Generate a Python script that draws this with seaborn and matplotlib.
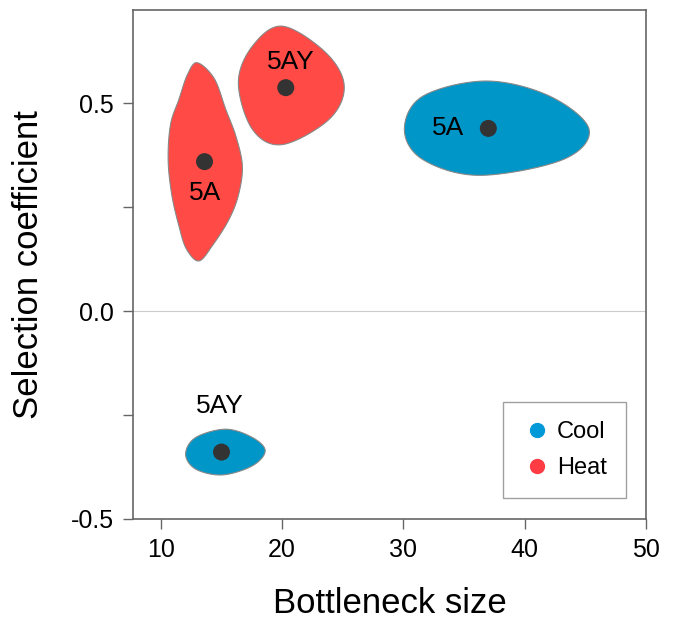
import numpy as np
import pandas as pd
import matplotlib
matplotlib.use("Agg")
import matplotlib.pyplot as plt
from matplotlib.lines import Line2D
import seaborn as sns

# 데이터
conditions = ["Heat", "Heat", "Cool", "Cool"]
strains = ["5A", "5AY", "5A", "5AY"]
bottleneck = [13.6, 20.3, 37.0, 15.0]
selection = [0.36, 0.538, 0.44, -0.339]

# 각 영역의 외곽선 (x 값, y 값)
heat_5a_x = [13.0, 14.4, 15.35, 16.2, 16.72, 16.4, 15.62, 14.3, 13.14, 12.1, 11.49, 10.9, 10.6, 10.8, 11.49, 12.2]
heat_5a_y = [0.598, 0.560, 0.486, 0.420, 0.349, 0.280, 0.221, 0.160, 0.121, 0.150, 0.205, 0.280, 0.365, 0.450, 0.510, 0.570]
heat_5ay_x = [20.02, 23.61, 25.12, 23.88, 20.02, 17.55, 16.39, 17.55]
heat_5ay_y = [0.686, 0.622, 0.542, 0.462, 0.401, 0.4375, 0.55, 0.638]
cool_5a_x = [30.08, 31.6, 36.83, 42.07, 45.31, 43.17, 36.28, 31.6]
cool_5a_y = [0.4375, 0.5175, 0.554, 0.5175, 0.4375, 0.365, 0.327, 0.365]
cool_5ay_x = [12.04, 12.87, 15.35, 17.55, 18.6, 17.55, 15.07, 12.87]
cool_5ay_y = [-0.344, -0.304, -0.284, -0.304, -0.336, -0.372, -0.394, -0.380]

# 라벨 위치
label_x = [13.64, 20.7, 33.7, 14.9]
label_y = [0.284, 0.60, 0.44, -0.228]

colors = {"Cool": "#0096c8", "Heat": "#ff4a45"}
legend_colors = {"Cool": "#0099d8", "Heat": "#ff3b44"}


def 닫힌곡선(xs, ys, n=40):
    # Catmull-Rom 스플라인으로 부드러운 닫힌 곡선 생성
    pts = np.column_stack([xs, ys])
    m = len(pts)
    out = []
    for i in range(m):
        p0, p1, p2, p3 = pts[i - 1], pts[i], pts[(i + 1) % m], pts[(i + 2) % m]
        t = np.linspace(0, 1, n, endpoint=False)[:, None]
        seg = 0.5 * ((2 * p1) + (-p0 + p2) * t + (2 * p0 - 5 * p1 + 4 * p2 - p3) * t ** 2
                     + (-p0 + 3 * p1 - 3 * p2 + p3) * t ** 3)
        out.append(seg)
    out = np.vstack(out)
    return out[:, 0], out[:, 1]


sns.set_theme(style="ticks")
plt.rcParams["font.family"] = ["Liberation Sans", "DejaVu Sans"]
plt.rcParams["text.color"] = "black"
plt.rcParams["axes.labelcolor"] = "black"
plt.rcParams["xtick.labelcolor"] = "black"
plt.rcParams["ytick.labelcolor"] = "black"

df = pd.DataFrame({"condition": conditions, "strain": strains,
                   "bottleneck": bottleneck, "selection": selection})

fig, ax = plt.subplots(figsize=(6.75, 6.23), dpi=100)
fig.subplots_adjust(left=0.197, right=0.957, bottom=0.167, top=0.984)

ax.axhline(0, color="#cccccc", lw=0.8, zorder=0)

blobs = [("Heat", heat_5a_x, heat_5a_y), ("Heat", heat_5ay_x, heat_5ay_y),
         ("Cool", cool_5a_x, cool_5a_y), ("Cool", cool_5ay_x, cool_5ay_y)]
for cond, bx, by in blobs:
    sx, sy = 닫힌곡선(bx, by)
    ax.fill(sx, sy, facecolor=colors[cond], edgecolor="#888888", lw=0.8, zorder=1)

sns.scatterplot(data=df, x="bottleneck", y="selection", color="#333333",
                s=150, edgecolor="none", ax=ax, zorder=3, legend=False)

for lx, ly, s in zip(label_x, label_y, strains):
    ax.text(lx, ly, s, fontsize=19, ha="center", va="center", color="black", zorder=4)

ax.set_xlim(7.7, 50)
ax.set_ylim(-0.5, 0.725)
ax.set_xticks([10, 20, 30, 40, 50])
ax.set_yticks([-0.5, -0.25, 0.0, 0.25, 0.5])
ax.set_yticklabels(["-0.5", "", "0.0", "", "0.5"])
ax.tick_params(axis="both", labelsize=18, length=7, width=1.0, color="#666666",
               direction="out")
ax.tick_params(axis="x", pad=7)
ax.tick_params(axis="y", pad=7)
for sp in ax.spines.values():
    sp.set_color("#666666")
    sp.set_linewidth(1.2)

ax.set_xlabel("Bottleneck size", fontsize=25, labelpad=18)
ax.set_ylabel("Selection coefficient", fontsize=25, labelpad=18)

handles = [Line2D([], [], marker="o", ls="", markersize=10, color=legend_colors[k],
                  label=k) for k in ["Cool", "Heat"]]
leg = ax.legend(handles=handles, loc="lower right", bbox_to_anchor=(0.961, 0.041),
                borderaxespad=0, fontsize=17, frameon=True, fancybox=False,
                edgecolor="#888888", handletextpad=0.2, borderpad=0.8,
                labelspacing=0.6, handlelength=1.3)
leg.get_frame().set_linewidth(1.0)

fig.savefig("out.png", dpi=100)
